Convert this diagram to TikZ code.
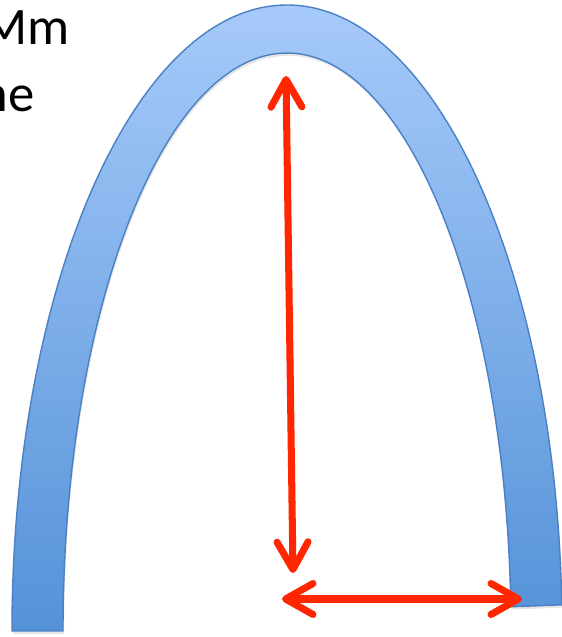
\documentclass[tikz,border=0pt]{standalone}
\usepackage{fontspec}
\setmainfont{Carlito}
\usetikzlibrary{arrows.meta,shadows}
\definecolor{archtop}{RGB}{166,202,250}
\definecolor{archbottom}{RGB}{84,146,216}
\definecolor{archline}{RGB}{76,128,196}
\definecolor{gapcolor}{RGB}{255,38,0}

\begin{document}
\begin{tikzpicture}[
    x=0.02cm, y=0.02cm,
    archband/.style={draw=archline, line width=0.8pt, top color=archtop, bottom color=archbottom, drop shadow={shadow xshift=0.6pt, shadow yshift=-1.6pt, opacity=0.2}},
    gap/.style={{Straight Barb[length=0.55cm, width=0.62cm, round]}-{Straight Barb[length=0.55cm, width=0.62cm, round]}, line width=4pt, gapcolor},
    note/.style={font=\fontsize{30}{36}\selectfont, inner sep=0pt, anchor=base east}
]
\clip (0,0) rectangle (562,637);

% Text cut at the left edge
\node[note] (mm) at (70,592) {Mm};
\node[note] (ne) at (35,525) {ne};

% Arch
\path[archband] (12,6) arc[start angle=180, end angle=2.4, x radius=275, y radius=626]
    -- (510.8,30.2) arc[start angle=2.4, end angle=180, x radius=224, y radius=578] -- cycle;

% End points
\coordinate (apex) at (286,561);
\coordinate (base) at (293,64);
\coordinate (gapL) at (282,38);
\coordinate (gapR) at (522,38);

% Distances
\draw[gap] (apex) -- (base);
\draw[gap] (gapL) -- (gapR);

\end{tikzpicture}
\end{document}
